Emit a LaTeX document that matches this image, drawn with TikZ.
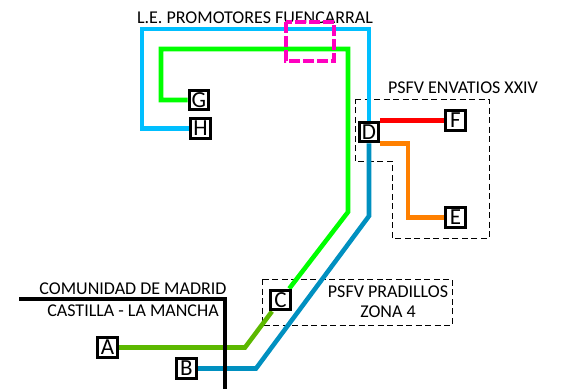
\documentclass[tikz,border=0pt]{standalone}
\usepackage{fontspec}
\setmainfont{Carlito}
\usetikzlibrary{backgrounds}
\definecolor{lightblue}{HTML}{00BFFF}
\definecolor{darkblue}{HTML}{0090C0}
\definecolor{lightgreen}{HTML}{00FF00}
\definecolor{darkgreen}{HTML}{5CB800}
\definecolor{linered}{HTML}{FF0000}
\definecolor{lineorange}{HTML}{FF8000}
\definecolor{boxpink}{HTML}{FF00C0}
\tikzset{
    station/.style={draw,fill=white,line width=1.1mm,inner sep=0,minimum size=6.9mm,font=\fontsize{23}{23}\selectfont},
    feeder/.style={line width=1.6mm,line join=miter},
    zone/.style={draw,dash pattern=on 6pt off 3.5pt,line width=.3mm},
    caption/.style={inner sep=0,font=\fontsize{18}{20}\selectfont},
}
\begin{document}
\begin{tikzpicture}[x=1pt,y=-1pt]
    \useasboundingbox(0,0)rectangle(575,389);
    % bends
    \coordinate(g1)at(161,100);
    \coordinate(g2)at(161,49);
    \coordinate(g3)at(348,49);
    \coordinate(g4)at(348,212);
    \coordinate(a1)at(245,347.5);
    \coordinate(h1)at(142,128.5);
    \coordinate(h2)at(142,29);
    \coordinate(h3)at(369,29);
    \coordinate(b1)at(369,216);
    \coordinate(b2)at(256,368.5);
    \coordinate(e1)at(408,217.5);
    % stations
    \node[station](G)at(199,100){G};
    \node[station](H)at(200.5,128.5){H};
    \node[station](D)at(369,132){D};
    \node[station](F)at(455.5,120.5){F};
    \node[station](E)at(455.5,217.5){E};
    \node[station](A)at(107.5,347.5){A};
    \node[station](B)at(186.5,368.5){B};
    \node[station](C)at(280.5,300){C};
    % lines and dashed zones under the stations
    \begin{pgfonlayer}{background}
        \draw[zone](355,99)--(489,99)--(489,238)--(392,238)--(392,161)--(355,161)--cycle;
        \draw[zone](262,279)rectangle(452,325);
        \draw[feeder,darkgreen](A)--(a1)--(C);
        \draw[feeder,lightgreen](C)--(g4)--(g3)--(g2)--(g1)--(G);
        \draw[feeder,darkblue](B)--(b2)--(b1)--(D);
        \draw[feeder,lightblue](D)--(h3)--(h2)--(h1)--(H);
        \draw[feeder,linered](D.north east)--(D.north east-|F.west);
        \draw[feeder,lineorange](D.south east)-|(e1)--(E);
    \end{pgfonlayer}
    % border
    \draw[line width=1.5mm](19,299)--(225,299)--(225,389);
    % labels
    \node[caption](lineT)at(255,18){L.E. PROMOTORES FUENCARRAL};
    \node[caption](madT)at(133,289){COMUNIDAD DE MADRID};
    \node[caption](clmT)at(133,311){CASTILLA - LA MANCHA};
    \node[caption](envT)at(463,88){PSFV ENVATIOS XXIV};
    \node[caption,align=center](praT)at(388,302){PSFV PRADILLOS\\ZONA 4};
    \draw[boxpink,dash pattern=on 11pt off 3pt,line width=1.2mm](286,22)rectangle(334,61);
\end{tikzpicture}
\end{document}
